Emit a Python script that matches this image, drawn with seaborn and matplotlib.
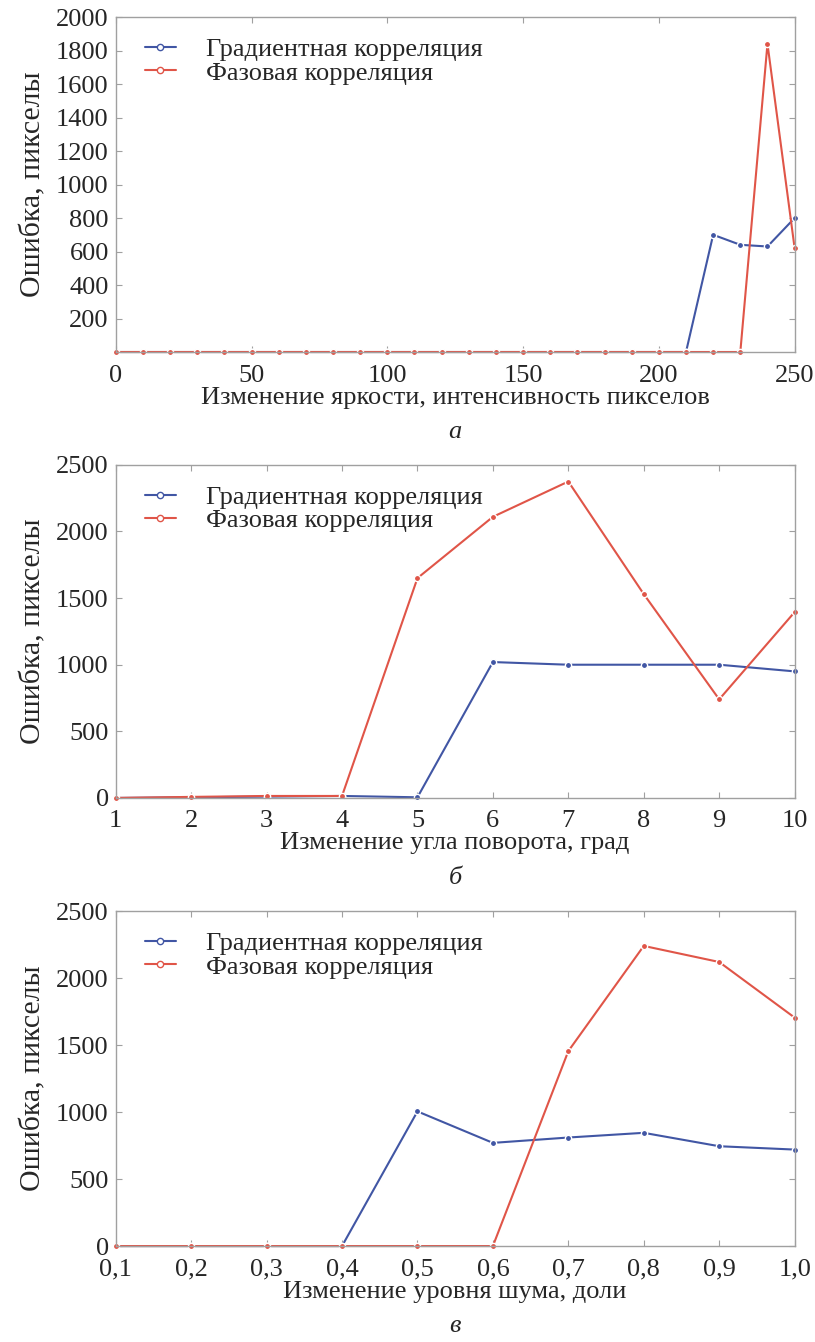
import numpy as np
import pandas as pd
import matplotlib
matplotlib.use("Agg")
import matplotlib.pyplot as plt
import seaborn as sns
from matplotlib.lines import Line2D

# Data
brightness = list(range(0, 251, 10))
bright_grad = [0] * 22 + [700, 640, 630, 800]
bright_phase = [0] * 24 + [1840, 620]

angle = [1, 2, 3, 4, 5, 6, 7, 8, 9, 10]
angle_grad = [0, 5, 10, 15, 5, 1020, 1000, 1000, 1000, 950]
angle_phase = [0, 8, 15, 15, 1650, 2110, 2375, 1530, 740, 1395]

noise = [0.1, 0.2, 0.3, 0.4, 0.5, 0.6, 0.7, 0.8, 0.9, 1.0]
noise_grad = [0, 0, 0, 0, 1005, 770, 810, 845, 745, 720]
noise_phase = [0, 0, 0, 0, 0, 0, 1455, 2240, 2120, 1705]

label_grad = "Градиентная корреляция"
label_phase = "Фазовая корреляция"
ylabel = "Ошибка, пикселы"

sns.set_style("ticks")
plt.rcParams['font.family'] = ['Liberation Serif', 'DejaVu Serif']
fs = 19

blue = "#4156a4"
red = "#e05548"
spine_col = "#a0a0a0"

fig = plt.figure(figsize=(8.15, 13.42), dpi=100)
L, W = 0.142, 0.833
axes = [fig.add_axes([L, 0.7377, W, 0.2496]),
        fig.add_axes([L, 0.4054, W, 0.2482]),
        fig.add_axes([L, 0.0715, W, 0.2496])]

panels = [
    (brightness, bright_grad, bright_phase, "Изменение яркости, интенсивность пикселов", "а",
     (0, 250), list(range(0, 251, 50)), [str(v) for v in range(0, 251, 50)],
     (0, 2000), list(range(200, 2001, 200))),
    (angle, angle_grad, angle_phase, "Изменение угла поворота, град", "б",
     (1, 10), angle, [str(v) for v in angle],
     (0, 2500), list(range(0, 2501, 500))),
    (noise, noise_grad, noise_phase, "Изменение уровня шума, доли", "в",
     (0.1, 1.0), noise, [f"{v:.1f}".replace(".", ",") for v in noise],
     (0, 2500), list(range(0, 2501, 500))),
]

for ax, (x, g, p, xlab, cap, xl, xt, xtl, yl, yt) in zip(axes, panels):
    df = pd.DataFrame({
        "x": list(x) * 2,
        "y": list(g) + list(p),
        "method": [label_grad] * len(x) + [label_phase] * len(x),
    })
    sns.lineplot(data=df, x="x", y="y", hue="method",
                 palette={label_grad: blue, label_phase: red},
                 marker="o", markersize=4.5, markeredgewidth=1.0,
                 linewidth=1.5, ax=ax, legend=False, clip_on=False,
                 estimator=None)
    ax.set_xlim(*xl)
    ax.set_ylim(*yl)
    ax.set_xticks(xt)
    ax.set_xticklabels(xtl)
    ax.set_yticks(yt)
    ax.set_xlabel(xlab, labelpad=0, fontsize=fs)
    ax.set_ylabel(ylabel, labelpad=7, fontsize=21.5)
    for s in ax.spines.values():
        s.set_visible(True)
        s.set_color(spine_col)
        s.set_linewidth(1.0)
    ax.tick_params(direction="in", length=4, color=spine_col, width=0.8,
                   top=True, right=True, labelsize=fs)
    ax.tick_params(axis="x", pad=9)
    ax.tick_params(axis="y", pad=5)
    ax.text(0.5, -0.24, cap, transform=ax.transAxes, ha="center", va="center",
            fontsize=fs, style="italic")
    handles = [
        Line2D([0], [0], color=blue, marker="o", markersize=4.5,
               markerfacecolor="white", markeredgecolor=blue, lw=1.5),
        Line2D([0], [0], color=red, marker="o", markersize=4.5,
               markerfacecolor="white", markeredgecolor=red, lw=1.5),
    ]
    ax.legend(handles, [label_grad, label_phase], loc="upper left",
              frameon=False, fontsize=fs, handlelength=1.15,
              handletextpad=1.15, labelspacing=0.0,
              borderaxespad=0.0, bbox_to_anchor=(0.028, 0.97))

fig.savefig("out.png", dpi=100)
